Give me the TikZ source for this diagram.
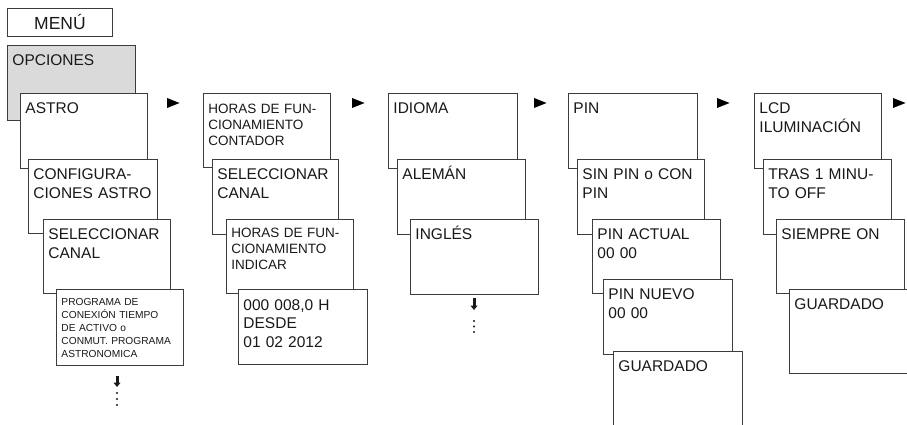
\documentclass[tikz,border=0pt]{standalone}
\usepackage{fontspec}
\setmainfont{Liberation Sans}
\usetikzlibrary{arrows.meta}
\definecolor{linea}{RGB}{60,60,60}
\definecolor{texto}{RGB}{25,25,25}
\definecolor{gris}{RGB}{218,218,218}

\begin{document}
\begin{tikzpicture}[x=1pt,y=-1pt,
    caja/.style={draw=linea,fill=white,line width=0.9pt,inner xsep=5pt,inner ysep=0pt,
      anchor=north west,align=left,text=texto},
    % width, height, baseline below top
    pant/.style n args={3}{caja,text width=#1-10pt,text height=#3,text depth=#2-#3},
    grande/.style={font=\fontsize{15.5}{18.3}\selectfont},
    medio/.style={font=\fontsize{13.5}{15.8}\selectfont},
    chico/.style={font=\fontsize{10.2}{12.9}\selectfont},
    bajar/.style={texto,line width=3pt,-{Triangle[length=4.5pt,width=7pt]}}]
  \useasboundingbox (0,0) rectangle (907,425);
  \clip (0,0) rectangle (907,425);

  % column 1: MENU / OPCIONES / ASTRO
  \node[pant={105}{28}{21.3},align=center,font=\fontsize{17.5}{20}\selectfont] (menu) at (7,8) {MENÚ};
  \node[pant={128}{75}{20.5},grande,fill=gris] (opciones) at (7,45) {OPCIONES};
  \node[pant={127}{75}{20.5},grande] (astro) at (20,93) {ASTRO};
  \node[pant={129}{74}{20.5},grande] (config) at (28,159) {CONFIGURA-\\CIONES ASTRO};
  \node[pant={127}{74}{20.5},grande] (canal1) at (43,219) {SELECCIONAR\\CANAL};
  \node[pant={127}{76}{16},chico] (programa) at (56,289)
    {PROGRAMA DE\\CONEXIÓN TIEMPO\\DE ACTIVO o\\CONMUT. PROGRAMA\\ASTRONOMICA};
  \draw[bajar] (117,376) -- (117,387);
  \foreach \y in {393,399,405} \fill[texto] (117,\y) circle (1.1pt);

  % column 2: horas de funcionamiento
  \node[pant={127}{74}{20},medio] (contador) at (203,93) {HORAS DE FUN-\\CIONAMIENTO\\CONTADOR};
  \node[pant={126}{75}{20.5},grande] (canal2) at (212,159) {SELECCIONAR\\CANAL};
  \node[pant={127}{74}{18},medio] (indicar) at (226,219) {HORAS DE FUN-\\CIONAMIENTO\\INDICAR};
  \node[pant={129}{75}{21},grande] (desde) at (238,289) {000 008,0 H\\DESDE\\01 02 2012};

  % column 3: idioma
  \node[pant={129}{75}{20.5},grande] (idioma) at (388,93) {IDIOMA};
  \node[pant={128}{75}{20.5},grande] (aleman) at (397,159) {ALEMÁN};
  \node[pant={128}{75}{20.5},grande] (ingles) at (410,219) {INGLÉS};
  \draw[bajar] (474,298) -- (474,310);
  \foreach \y in {321,326.5,332} \fill[texto] (474,\y) circle (1.1pt);

  % column 4: PIN
  \node[pant={129}{75}{20.5},grande] (pin) at (568,93) {PIN};
  \node[pant={127}{75}{20.5},grande] (sinpin) at (577,159) {SIN PIN o CON\\PIN};
  \node[pant={128}{74}{20.5},grande] (pinactual) at (592,219) {PIN ACTUAL\\00 00};
  \node[pant={129}{75}{20.5},grande] (pinnuevo) at (603,279) {PIN NUEVO\\00 00};
  \node[pant={129}{80}{20.5},grande] (guardado1) at (613,351) {GUARDADO};

  % column 5: LCD
  \node[pant={127}{75}{20.5},grande] (lcd) at (754,93) {LCD\\ILUMINACIÓN};
  \node[pant={128}{75}{20.5},grande] (tras) at (763,159) {TRAS 1 MINU-\\TO OFF};
  \node[pant={128}{74}{20.5},grande] (siempre) at (776,219) {SIEMPRE ON};
  \node[pant={130}{84}{20.5},grande] (guardado2) at (789,289) {GUARDADO};

  % next-item markers
  \foreach \x in {167,352,534,717,893}
    \fill[black] (\x,98) -- (\x+12.5,103) -- (\x,108) -- cycle;
\end{tikzpicture}
\end{document}
